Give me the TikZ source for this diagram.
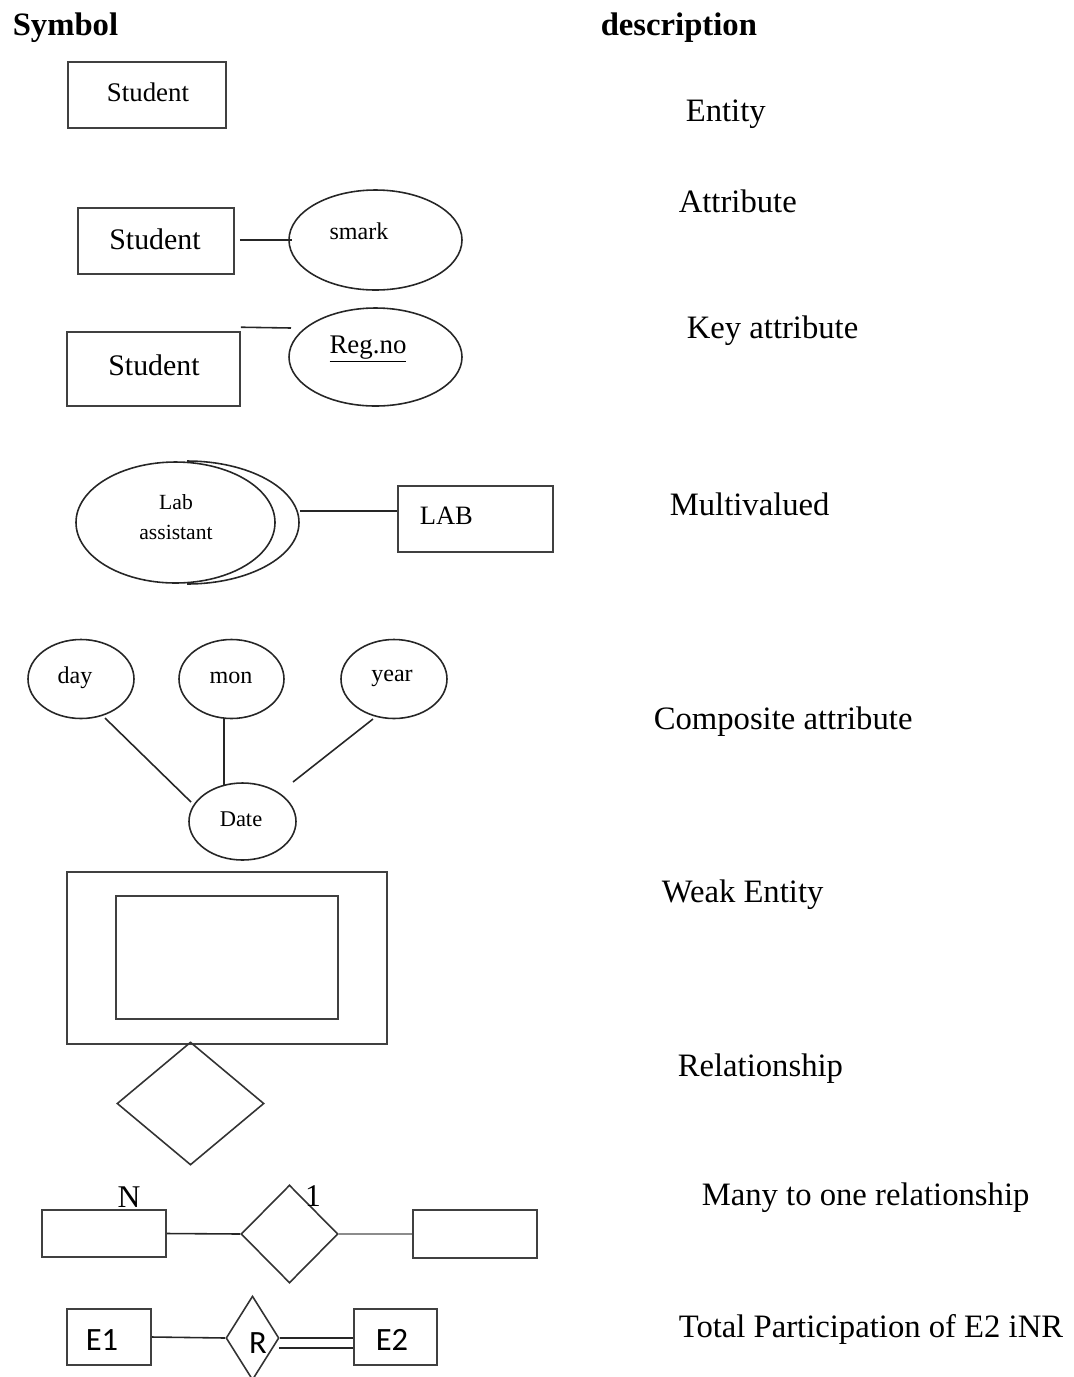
\documentclass[tikz,border=0pt]{standalone}
\usepackage{fontspec}
\setmainfont{Liberation Serif}
\newfontfamily\calibri{Carlito}
\usetikzlibrary{shapes.geometric,calc}
\newdimen\px \px=0.02cm
\begin{document}
\begin{tikzpicture}[x=0.02cm,y=-0.02cm,line width=0.9pt,
  box/.style={draw=black!75,rectangle,inner sep=0pt},
  attr/.style={draw=black!85,ellipse,inner sep=0pt},
  rel/.style={draw=black!80,diamond,inner sep=0pt},
  desc/.style={anchor=west,inner sep=0pt,yshift=-4\px,font=\fontsize{18.6}{22}\selectfont},
  head/.style={anchor=west,inner sep=0pt,yshift=-4\px,font=\bfseries\fontsize{18.6}{22}\selectfont},
  txt/.style={inner sep=0pt,yshift=-3\px},
  sanstxt/.style={inner sep=0pt,font=\calibri\fontsize{18.5}{21}\selectfont},
  conn/.style={draw=black!85}]
\useasboundingbox (0,0) rectangle (1073,1377);

% column headings
\node[head] (hsym) at (12,24) {Symbol};
\node[head] (hdesc) at (600,24) {description};

% descriptions
\node[desc] (dEntity) at (685,110) {Entity};
\node[desc] (dAttr) at (678,197) {Attribute};
\node[desc] (dKey) at (686,327) {Key attribute};
\node[desc] (dMulti) at (669,500) {Multivalued};
\node[desc] (dComp) at (653,718) {Composite attribute};
\node[desc] (dWeak) at (661,891) {Weak Entity};
\node[desc] (dRel) at (677,1065) {Relationship};
\node[desc] (dMany) at (701,1194) {Many to one relationship};
\node[desc] (dTotal) at (678,1325) {Total Participation of E2 iNR};

% entity
\node[box,minimum width=158\px,minimum height=66\px] (s1) at (147,95) {};
\node[txt,font=\fontsize{15.3}{18}\selectfont] (s1t) at (148,89) {Student};

% attribute
\node[box,minimum width=156\px,minimum height=66\px] (s2) at (156,241) {};
\node[txt,font=\fontsize{17}{20}\selectfont] (s2t) at (155,236) {Student};
\node[attr,minimum width=173\px,minimum height=100\px] (sm) at (375.5,240) {};
\node[txt,font=\fontsize{13.7}{16}\selectfont] (smt) at (359,228) {smark};
\draw[conn] ($(s2.east)+(5,-1)$) -- ($(sm.west)+(4,0)$);

% key attribute
\node[box,minimum width=173\px,minimum height=74\px] (s3) at (153.5,369) {};
\node[txt,font=\fontsize{17}{20}\selectfont] (s3t) at (154,362) {Student};
\node[attr,minimum width=173\px,minimum height=98\px] (rg) at (375.5,357) {};
\node[txt,font=\fontsize{15.3}{18}\selectfont] (rgt) at (368,346) {\underline{Reg.no}};
\draw[conn] ($(s3.north east)+(0,-4)$) -- ($(rg.center)+(-84.5,-29)$);

% multivalued attribute
\node[attr,minimum width=199\px,minimum height=121\px] (mvi) at (175.5,522.5) {};
\begin{scope}
  \clip (187,440) rectangle (320,600);
  \node[attr,minimum width=224\px,minimum height=123\px] (mvo) at (187,522.5) {};
\end{scope}
\node[txt,align=center,font=\fontsize{12.3}{17}\selectfont] (mvt) at (176,514) {Lab\\assistant};
\node[box,minimum width=155\px,minimum height=66\px] (lab) at (475.5,519) {};
\node[txt,anchor=west,font=\fontsize{15.1}{18}\selectfont] (labt) at (419,513) {LAB};
\draw[conn] ($(mvo.east)+(0,-11.5)$) -- ($(lab.west)+(0,-8)$);

% composite attribute
\node[attr,minimum width=106\px,minimum height=79\px] (day) at (81,679) {};
\node[attr,minimum width=105\px,minimum height=79\px] (mon) at (231.5,679) {};
\node[attr,minimum width=106\px,minimum height=79\px] (year) at (394,679) {};
\node[attr,minimum width=107\px,minimum height=77\px] (date) at (242.5,821.5) {};
\node[txt,font=\fontsize{13.7}{16}\selectfont] (dayt) at (75,675) {day};
\node[txt,font=\fontsize{13.7}{16}\selectfont] (mont) at (231,675) {mon};
\node[txt,font=\fontsize{13.7}{16}\selectfont] (yeart) at (392,675) {year};
\node[txt,font=\fontsize{12.8}{16}\selectfont] (datet) at (241,816) {Date};
\draw[conn] ($(day.center)+(24,39)$) -- ($(date.center)+(-51.5,-19.5)$);
\draw[conn] ($(mon.center)+(-7.5,39)$) -- ($(date.center)+(-18.5,-36.5)$);
\draw[conn] ($(year.center)+(-21,40)$) -- ($(date.center)+(50.5,-39.5)$);

% weak entity
\node[box,minimum width=320\px,minimum height=172\px] (wko) at (227,958) {};
\node[box,minimum width=222\px,minimum height=123\px] (wki) at (227,957.5) {};

% relationship
\node[rel,minimum width=147\px,minimum height=123\px] (rl) at (190.5,1103.5) {};

% many to one
\node[box,minimum width=124\px,minimum height=47\px] (m1) at (104,1233.5) {};
\node[rel,minimum width=97\px,minimum height=98\px] (mr) at (289.5,1234) {};
\node[box,minimum width=124\px,minimum height=48\px] (m2) at (475,1234) {};
\draw[conn] (m1.east) -- (mr.west);
\draw[draw=black!45] (mr.east) -- (m2.west);
\node[txt,font=\fontsize{18}{20}\selectfont] (nN) at (129,1194) {N};
\node[txt,font=\fontsize{18}{20}\selectfont] (n1) at (313,1193) {1};

% total participation
\node[box,minimum width=84\px,minimum height=56\px] (e1) at (109,1337) {};
\node[rel,minimum width=53\px,minimum height=84\px] (rr) at (252.5,1338) {};
\node[box,minimum width=83\px,minimum height=56\px] (e2) at (395.5,1337) {};
\node[sanstxt] (e1t) at (102,1340) {E1};
\node[sanstxt] (rrt) at (258,1343) {R};
\node[sanstxt] (e2t) at (392,1340) {E2};
\draw[conn] (e1.east) -- (rr.west);
\draw[conn] (rr.east) -- (e2.west |- rr.east);
\draw[conn] ($(rr.east)+(-1,10)$) -- ($(e2.west |- rr.east)+(0,10)$);
\end{tikzpicture}
\end{document}
